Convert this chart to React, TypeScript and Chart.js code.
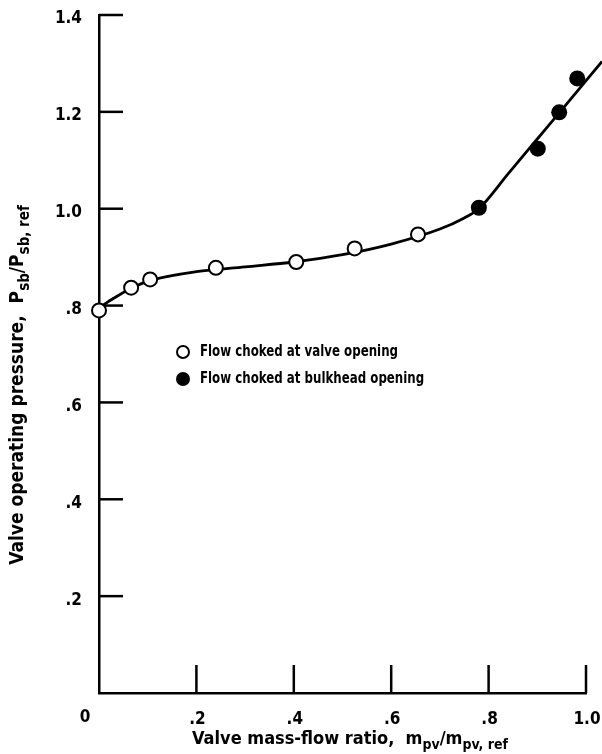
import React, { useEffect, useRef } from "react";
import { Chart, registerables } from "chart.js";

Chart.register(...registerables);

const openX = [0, 0.066, 0.105, 0.24, 0.405, 0.525, 0.655];
const openY = [0.79, 0.837, 0.854, 0.878, 0.89, 0.918, 0.947];
const filledX = [0.78, 0.901, 0.945, 0.982];
const filledY = [1.002, 1.124, 1.199, 1.269];
const curveX = [0, 0.03, 0.07, 0.11, 0.2, 0.3, 0.4, 0.5, 0.6, 0.7, 0.75, 0.78, 0.84, 0.9, 0.96, 1.033];
const curveY = [0.795, 0.815, 0.838, 0.853, 0.87, 0.88, 0.89, 0.905, 0.927, 0.958, 0.981, 1.0, 1.072, 1.144, 1.216, 1.304];
const xTicks = [0, 0.2, 0.4, 0.6, 0.8, 1.0];
const yTicks = [0, 0.2, 0.4, 0.6, 0.8, 1.0, 1.2, 1.4];
const legendLabels = ["Flow choked at valve opening", "Flow choked at bulkhead opening"];

const FONT = '"Liberation Sans Narrow", "DejaVu Sans Condensed", "Roboto Condensed", Roboto, sans-serif';

const fmt = (v: number) => {
  const s = v.toFixed(1);
  return v < 1 ? s.replace(/^0/, "") : s;
};

type Seg = { t: string; sub?: boolean };

function drawRich(ctx: CanvasRenderingContext2D, segs: Seg[], x: number, y: number, size: number) {
  const main = `bold ${size}px ${FONT}`;
  const small = `bold ${Math.round(size * 0.8)}px ${FONT}`;
  let total = 0;
  for (const s of segs) {
    ctx.font = s.sub ? small : main;
    total += ctx.measureText(s.t).width;
  }
  let cx = x - total / 2;
  ctx.textAlign = "left";
  ctx.textBaseline = "alphabetic";
  for (const s of segs) {
    ctx.font = s.sub ? small : main;
    ctx.fillText(s.t, cx, s.sub ? y + size * 0.3 : y);
    cx += ctx.measureText(s.t).width;
  }
}

const decor = {
  id: "decor",
  beforeDatasetsDraw(chart: any) {
    const ctx = chart.ctx as CanvasRenderingContext2D;
    const xs = chart.scales.x;
    const ys = chart.scales.y;
    const { left, bottom } = chart.chartArea;
    ctx.save();
    ctx.strokeStyle = "#000";
    ctx.lineWidth = 2.5;
    ctx.lineCap = "butt";
    for (const v of yTicks) {
      if (v === 0) continue;
      const py = ys.getPixelForValue(v);
      ctx.beginPath();
      ctx.moveTo(left, py);
      ctx.lineTo(left + 24, py);
      ctx.stroke();
    }
    for (const v of xTicks) {
      if (v === 0) continue;
      const px = xs.getPixelForValue(v);
      ctx.beginPath();
      ctx.moveTo(px, bottom);
      ctx.lineTo(px, bottom - 28);
      ctx.stroke();
    }
    ctx.restore();
  },
  afterDraw(chart: any) {
    const ctx = chart.ctx as CanvasRenderingContext2D;
    const { left, bottom } = chart.chartArea;
    ctx.save();
    ctx.fillStyle = "#000";
    ctx.font = `bold 17px ${FONT}`;
    ctx.textAlign = "center";
    ctx.textBaseline = "middle";
    ctx.fillText("0", left - 14, bottom + 25);

    drawRich(
      ctx,
      [
        { t: "Valve mass-flow ratio,  m" },
        { t: "pv", sub: true },
        { t: "/m" },
        { t: "pv, ref", sub: true },
      ],
      350,
      744,
      18
    );
    ctx.save();
    ctx.translate(23, 385);
    ctx.rotate(-Math.PI / 2);
    drawRich(
      ctx,
      [
        { t: "Valve operating pressure,  P" },
        { t: "sb", sub: true },
        { t: "/P" },
        { t: "sb, ref", sub: true },
      ],
      0,
      0,
      19
    );
    ctx.restore();

    const lx = 183;
    const ly = [352, 379];
    ctx.lineWidth = 2;
    ctx.strokeStyle = "#000";
    ctx.beginPath();
    ctx.arc(lx, ly[0], 6, 0, Math.PI * 2);
    ctx.fillStyle = "#fff";
    ctx.fill();
    ctx.stroke();
    ctx.beginPath();
    ctx.arc(lx, ly[1], 7, 0, Math.PI * 2);
    ctx.fillStyle = "#000";
    ctx.fill();
    ctx.font = `bold 16px ${FONT}`;
    ctx.textAlign = "left";
    ctx.textBaseline = "middle";
    const w0 = ctx.measureText(legendLabels[0]).width;
    const sx = 198 / w0;
    for (let i = 0; i < 2; i++) {
      ctx.save();
      ctx.translate(200, ly[i]);
      ctx.scale(sx, 1);
      ctx.fillText(legendLabels[i], 0, 0);
      ctx.restore();
    }
    ctx.restore();
  },
};

export default function App() {
  const ref = useRef<HTMLCanvasElement>(null);
  useEffect(() => {
    if (!ref.current) return;
    const chart = new Chart(ref.current, {
      type: "scatter",
      data: {
        datasets: [
          {
            label: "open",
            data: openX.map((x, i) => ({ x, y: openY[i] })),
            pointRadius: 7,
            pointBackgroundColor: "#fff",
            pointBorderColor: "#000",
            pointBorderWidth: 2,
            showLine: false,
            order: 1,
            clip: false as any,
          },
          {
            label: "filled",
            data: filledX.map((x, i) => ({ x, y: filledY[i] })),
            pointRadius: 8,
            pointBackgroundColor: "#000",
            pointBorderColor: "#000",
            pointBorderWidth: 0,
            showLine: false,
            order: 0,
            clip: false as any,
          },
          {
            label: "curve",
            data: curveX.map((x, i) => ({ x, y: curveY[i] })),
            showLine: true,
            pointRadius: 0,
            borderColor: "#000",
            borderWidth: 2.8,
            cubicInterpolationMode: "monotone",
            order: 2,
            clip: false as any,
          } as any,
        ],
      },
      options: {
        responsive: false,
        animation: false,
        layout: { padding: { top: 15, right: 16, left: 0, bottom: 0 } },
        plugins: { legend: { display: false }, tooltip: { enabled: false } },
        scales: {
          x: {
            type: "linear",
            min: 0,
            max: 1,
            afterBuildTicks: (s: any) => {
              s.ticks = xTicks.map((v) => ({ value: v }));
            },
            afterFit: (s: any) => {
              s.height = 61;
              s.paddingLeft = 0;
              s.paddingRight = 0;
            },
            grid: { display: false, drawTicks: false },
            border: { display: true, color: "#000", width: 2.5 },
            ticks: {
              padding: 16,
              color: "#000",
              font: { family: FONT, size: 17, weight: "bold" },
              maxRotation: 0,
              labelOffset: 1,
              callback: (v: any) => (v === 0 ? "" : fmt(Number(v))),
            },
          },
          y: {
            type: "linear",
            min: 0,
            max: 1.4,
            afterBuildTicks: (s: any) => {
              s.ticks = yTicks.map((v) => ({ value: v }));
            },
            afterFit: (s: any) => {
              s.width = 99;
              s.paddingTop = 0;
              s.paddingBottom = 0;
            },
            grid: { display: false, drawTicks: false },
            border: { display: true, color: "#000", width: 2.5 },
            ticks: {
              padding: 17,
              color: "#000",
              labelOffset: 4,
              font: { family: FONT, size: 17, weight: "bold" },
              callback: (v: any) => (v === 0 ? "" : fmt(Number(v))),
            },
          },
        },
      },
      plugins: [decor],
    });
    return () => chart.destroy();
  }, []);
  return (
    <div style={{ position: "absolute", left: 0, top: 0, width: 602, height: 754, background: "#fff" }}>
      <canvas ref={ref} width={602} height={754} style={{ width: 602, height: 754 }} />
    </div>
  );
}
